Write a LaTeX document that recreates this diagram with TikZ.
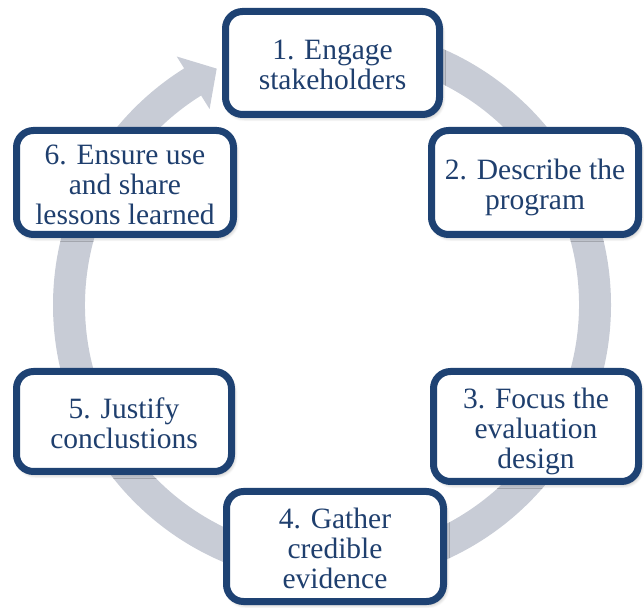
\documentclass[tikz,border=0pt]{standalone}
\usepackage{fontspec}
\setmainfont{Liberation Serif}
\usetikzlibrary{shadows.blur}
\definecolor{boxblue}{RGB}{30,66,115}
\definecolor{textblue}{RGB}{31,63,110}
\definecolor{ringgray}{RGB}{200,204,214}
% centred lines, drawn a little below the middle of the box
\newsavebox{\linesbox}
\newcommand{\steplines}[1]{%
  \sbox{\linesbox}{\begin{tabular}{@{}c@{}}#1\end{tabular}}%
  \raisebox{-6pt}[\ht\linesbox][\dp\linesbox]{\usebox{\linesbox}}}
\tikzset{
  stepbox/.style={draw=boxblue, line width=7pt, fill=white, rounded corners=17pt,
    align=center, text=textblue, inner sep=0pt,
    font=\fontsize{29.5}{30}\selectfont,
    blur shadow={shadow xshift=2pt, shadow yshift=-3pt, shadow blur steps=6,
      shadow blur radius=4pt, shadow opacity=35}},
}
\begin{document}
\begin{tikzpicture}[x=1pt,y=1pt]
\useasboundingbox (0,0) rectangle (644,607);

% circular arrow running clockwise around the cycle
\begin{scope}[shift={(332,302)}]
  \fill[ringgray]
    (90:279) arc[start angle=90, end angle=-238, radius=279]
    -- (-238:293) -- (-244:263) -- (-238:231) -- (-238:247)
    arc[start angle=-238, end angle=90, radius=247] -- cycle;
\end{scope}

% the six steps
\node[stepbox, minimum width=214, minimum height=103] (s1) at (332.5,544) {\steplines{1. Engage\\stakeholders}};
\node[stepbox, minimum width=207, minimum height=104] (s2) at (535,424.5) {\steplines{2. Describe the\\program}};
\node[stepbox, minimum width=205, minimum height=110] (s3) at (536,180.5) {\steplines{3. Focus the\\evaluation\\design}};
\node[stepbox, minimum width=217, minimum height=110] (s4) at (335,60.5) {\steplines{4. Gather\\credible\\evidence}};
\node[stepbox, minimum width=215, minimum height=100] (s5) at (124,185.5) {\steplines{5. Justify\\conclustions}};
\node[stepbox, minimum width=217, minimum height=104] (s6) at (125,424.5) {\steplines{6. Ensure use\\and share\\lessons learned}};
\end{tikzpicture}
\end{document}
